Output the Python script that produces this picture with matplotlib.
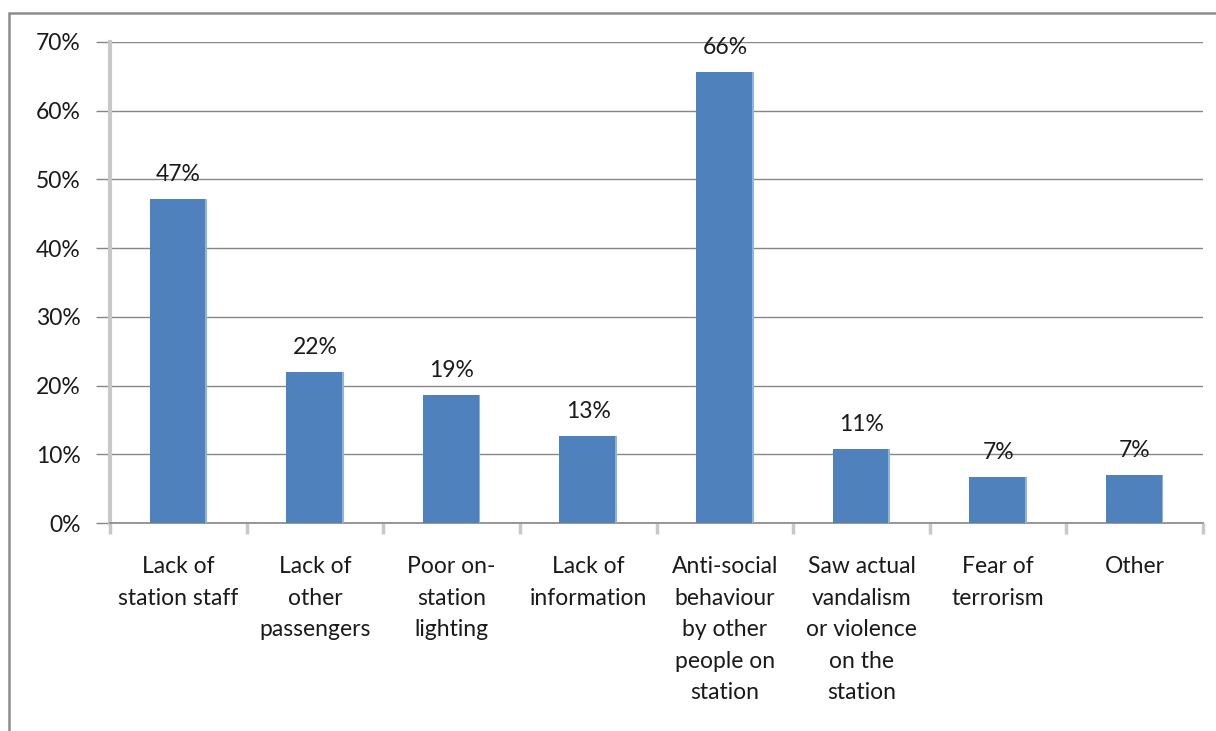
import matplotlib.pyplot as plt
import matplotlib.patches as mpatches
import numpy as np

categories = ['Lack of\nstation staff', 'Lack of\nother\npassengers', 'Poor on-\nstation\nlighting',
              'Lack of\ninformation', 'Anti-social\nbehaviour\nby other\npeople on\nstation',
              'Saw actual\nvandalism\nor violence\non the\nstation', 'Fear of\nterrorism', 'Other']
values = [47.2, 22.0, 18.6, 12.7, 65.7, 10.8, 6.7, 7.0]
value_labels = ['47%', '22%', '19%', '13%', '66%', '11%', '7%', '7%']
yticks = [0, 10, 20, 30, 40, 50, 60, 70]

plt.rcParams['font.family'] = ['Lato', 'DejaVu Sans']
FS = 16.5

fig = plt.figure(figsize=(12.16, 7.31), dpi=100)
fig.patch.set_facecolor('white')
ax = fig.add_axes([110/1216, 208/731, 1093/1216, 481/731])

# outer chart border (only left and top visible in the crop)
fig.add_artist(mpatches.Rectangle((9/1216, -0.2), 1.5, 1.2 - 13/731,
                                  transform=fig.transFigure, fill=False,
                                  edgecolor='#8c8c8c', lw=1.8))

x = np.arange(len(categories))
w = 0.42
ax.bar(x, values, width=w, color='#4F81BD', zorder=3)
# lighter right-hand edge, like the Excel bevel
ax.bar(x + w/2 - 0.006, values, width=0.012, color='#8DB3E2', zorder=4)

for xi, v, lab in zip(x, values, value_labels):
    ax.text(xi, v + 2.0, lab, ha='center', va='bottom', fontsize=FS, color='#1a1a1a')

ax.set_xlim(-0.5, len(categories) - 0.5)
ax.set_ylim(0, 70)
ax.set_yticks(yticks)
ax.set_yticklabels([f'{t}%' for t in yticks], fontsize=FS, color='#1a1a1a')
ax.yaxis.grid(True, color='#868686', lw=1, zorder=0)
ax.tick_params(axis='y', length=10, color='#868686', width=1, pad=11)

ax.set_xticks(x)
ax.set_xticklabels(categories, fontsize=FS, color='#1a1a1a', linespacing=1.62, va='top')
ax.set_xticks(np.arange(len(categories) + 1) - 0.5, minor=True)
ax.tick_params(axis='x', which='major', length=0, pad=24)
ax.tick_params(axis='x', which='minor', length=8, color='#c8c8c8', width=2.5)

for s in ['top', 'right']:
    ax.spines[s].set_visible(False)
ax.spines['left'].set_color('#c8c8c8')
ax.spines['left'].set_linewidth(3)
ax.spines['bottom'].set_color('#868686')
ax.spines['bottom'].set_linewidth(1.2)

plt.savefig('out.png', dpi=100, facecolor='white')
